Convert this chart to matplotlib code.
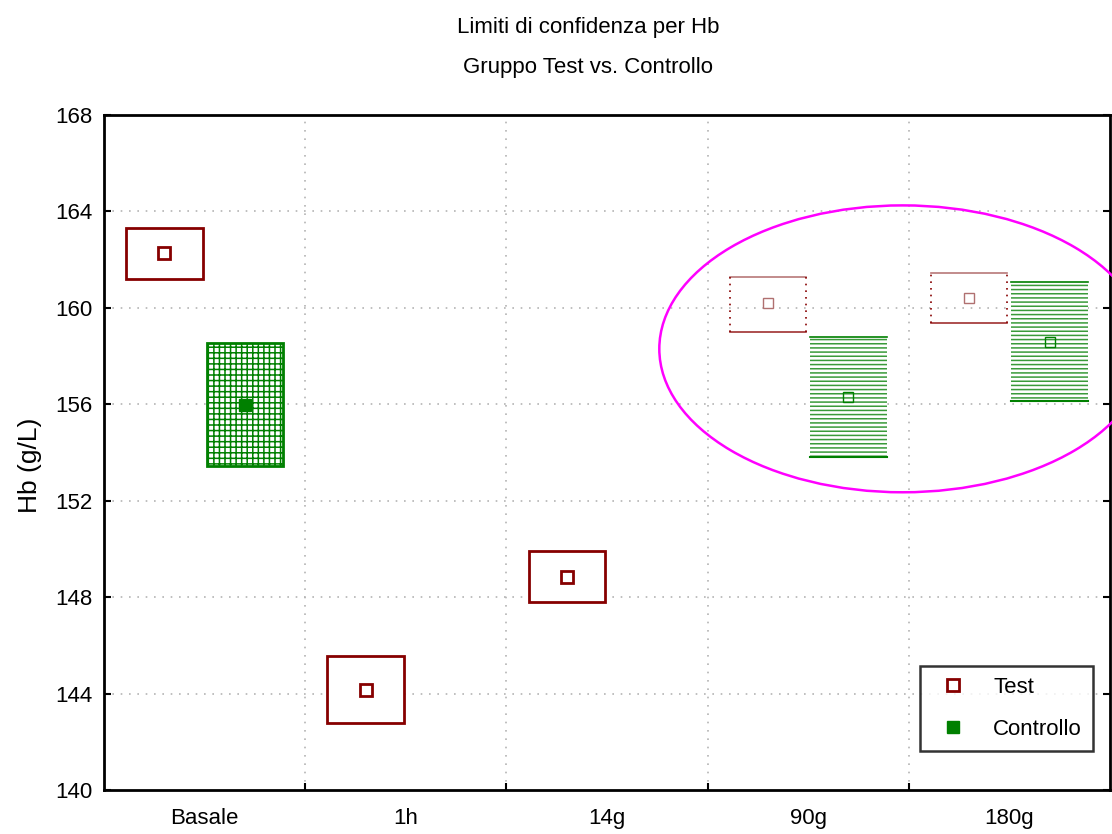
import numpy as np
import matplotlib
matplotlib.use("Agg")
import matplotlib.pyplot as plt
from matplotlib.patches import Rectangle, Ellipse
from matplotlib.lines import Line2D

plt.rcParams["font.family"] = ["Liberation Sans", "DejaVu Sans"]
plt.rcParams["hatch.linewidth"] = 1.1

# ---- dati (limiti di confidenza per Hb) ----
categories = ["Basale", "1h", "14g", "90g", "180g"]
test_mean = [162.27, 144.14, 148.83, 160.2, 160.41]
test_lo = [161.2, 142.8, 147.79, 159.0, 159.37]
test_hi = [163.3, 145.55, 149.91, 161.28, 161.44]
ctrl_mean = [155.97, np.nan, np.nan, 156.3, 158.58]
ctrl_lo = [153.44, np.nan, np.nan, 153.81, 156.13]
ctrl_hi = [158.54, np.nan, np.nan, 158.79, 161.07]
y_ticks = [140, 144, 148, 152, 156, 160, 164, 168]

DARKRED = "#860000"
GREEN = "#008000"
OFF = 0.2
BW = 0.38

fig = plt.figure(figsize=(11.12, 8.34), dpi=100)
ax = fig.add_axes([104 / 1112, 1 - 790 / 834, 1006 / 1112, 675 / 834])

x = np.arange(len(categories))
ax.set_xlim(-0.5, len(categories) - 0.5)
ax.set_ylim(140, 168)

# griglia punteggiata
for yv in y_ticks[1:-1]:
    ax.axhline(yv, color="#b4b4b4", lw=1.2, ls=(0, (1, 4)), zorder=0)
for xv in x[:-1] + 0.5:
    ax.axvline(xv, color="#b4b4b4", lw=1.2, ls=(0, (1, 4)), zorder=0)

for i in range(len(categories)):
    # gruppo Test
    xt = x[i] - OFF
    faded = i >= 3
    if not faded:
        ax.add_patch(Rectangle((xt - BW / 2, test_lo[i]), BW, test_hi[i] - test_lo[i],
                               facecolor="white", edgecolor=DARKRED, lw=2, zorder=3))
        ax.plot(xt, test_mean[i], marker="s", ms=8, mfc="white", mec=DARKRED, mew=2, zorder=4)
    else:
        ax.plot([xt - BW / 2, xt + BW / 2], [test_hi[i]] * 2, color="#b87878", lw=1.2, zorder=3)
        ax.plot([xt - BW / 2, xt + BW / 2], [test_lo[i]] * 2, color="#a03030", lw=1.2, zorder=3)
        for xs in (xt - BW / 2, xt + BW / 2):
            ax.plot([xs, xs], [test_lo[i], test_hi[i]], color=DARKRED, lw=1.2,
                    ls=(0, (1, 3)), zorder=3)
        ax.plot(xt, test_mean[i], marker="s", ms=7, mfc="white", mec="#b07070", mew=1, zorder=4)

    # gruppo Controllo
    if np.isnan(ctrl_mean[i]):
        continue
    xc = x[i] + OFF
    if not faded:
        ax.add_patch(Rectangle((xc - BW / 2, ctrl_lo[i]), BW, ctrl_hi[i] - ctrl_lo[i],
                               facecolor="white", edgecolor=GREEN, hatch="+++", lw=2, zorder=3))
        ax.plot(xc, ctrl_mean[i], marker="s", ms=9, mfc=GREEN, mec=GREEN, zorder=4)
    else:
        ax.add_patch(Rectangle((xc - BW / 2, ctrl_lo[i]), BW, ctrl_hi[i] - ctrl_lo[i],
                               facecolor="white", edgecolor="#3a9a3a", hatch="----", lw=0, zorder=3))
        ax.plot([xc - BW / 2, xc + BW / 2], [ctrl_hi[i]] * 2, color=GREEN, lw=1.2, zorder=3)
        ax.plot([xc - BW / 2, xc + BW / 2], [ctrl_lo[i]] * 2, color=GREEN, lw=1.5, zorder=3)
        ax.plot(xc, ctrl_mean[i], marker="s", ms=7, mfc="none", mec=GREEN, mew=1, zorder=4)

# ellisse di evidenziazione
ax.add_patch(Ellipse((3.47, 158.3), 2.42, 11.9, facecolor="none", edgecolor="#ff00ff",
                     lw=1.8, zorder=5, clip_on=False))

# assi
ax.set_yticks(y_ticks)
ax.set_xticks(x)
ax.set_xticklabels(categories)
ax.set_xticks(x[:-1] + 0.5, minor=True)
ax.tick_params(axis="x", which="major", length=0, labelsize=16, pad=13)
ax.tick_params(axis="x", which="minor", direction="in", length=5, width=1.5)
ax.tick_params(axis="y", direction="in", length=5, width=1.5, labelsize=16, right=True, pad=8)
for s in ax.spines.values():
    s.set_linewidth(2)
ax.set_ylabel("Hb (g/L)", fontsize=19)
ax.yaxis.set_label_coords(-0.062, 0.481)

fig.text(588 / 1112, 1 - 27 / 834, "Limiti di confidenza per Hb", ha="center", va="center", fontsize=16)
fig.text(588 / 1112, 1 - 68 / 834, "Gruppo Test vs. Controllo", ha="center", va="center", fontsize=16)

handles = [
    Line2D([], [], ls="none", marker="s", ms=8, mfc="white", mec=DARKRED, mew=2),
    Line2D([], [], ls="none", marker="s", ms=9, mfc=GREEN, mec=GREEN),
]
leg = ax.legend(handles, ["Test", "Controllo"], loc="lower right", bbox_to_anchor=(0.983, 0.058),
                fontsize=16, frameon=True, fancybox=False, borderpad=0.5, handletextpad=0.8,
                labelspacing=0.93, borderaxespad=0)
leg.get_frame().set_edgecolor("black")
leg.get_frame().set_linewidth(1.8)

fig.savefig("out.png", dpi=100)
